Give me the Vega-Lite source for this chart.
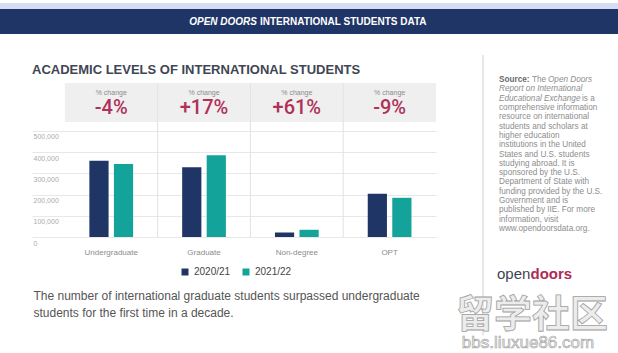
{
  "$schema": "https://vega.github.io/schema/vega-lite/v6.json",
  "padding": 0,
  "background": "white",
  "bounds": "flush",
  "spacing": 0,
  "config": {
    "font": "Liberation Sans",
    "view": {"stroke": null},
    "concat": {"spacing": 0}
  },
  "datasets": {
    "students": [
      {"level": "Undergraduate", "year": "2020/21", "students": 359787},
      {"level": "Undergraduate", "year": "2021/22", "students": 344532},
      {"level": "Graduate", "year": "2020/21", "students": 329272},
      {"level": "Graduate", "year": "2021/22", "students": 385097},
      {"level": "Non-degree", "year": "2020/21", "students": 21151},
      {"level": "Non-degree", "year": "2021/22", "students": 34017},
      {"level": "OPT", "year": "2020/21", "students": 203885},
      {"level": "OPT", "year": "2021/22", "students": 184759}
    ],
    "changes": [
      {"level": "Undergraduate", "change": "-4%"},
      {"level": "Graduate", "change": "+17%"},
      {"level": "Non-degree", "change": "+61%"},
      {"level": "OPT", "change": "-9%"}
    ],
    "notes": [
      {"line": 1, "part": "label", "text": "Source:"},
      {"line": 1, "part": "lead", "text": "The"},
      {"line": 1, "part": "title1", "text": "Open Doors"},
      {"line": 2, "part": "title", "text": "Report on International"},
      {"line": 3, "part": "title", "text": "Educational Exchange"},
      {"line": 3, "part": "tail", "text": "is a"},
      {"line": 4, "part": "body", "text": "comprehensive information"},
      {"line": 5, "part": "body", "text": "resource on international"},
      {"line": 6, "part": "body", "text": "students and scholars at"},
      {"line": 7, "part": "body", "text": "higher education"},
      {"line": 8, "part": "body", "text": "institutions in the United"},
      {"line": 9, "part": "body", "text": "States and U.S. students"},
      {"line": 10, "part": "body", "text": "studying abroad. It is"},
      {"line": 11, "part": "body", "text": "sponsored by the U.S."},
      {"line": 12, "part": "body", "text": "Department of State with"},
      {"line": 13, "part": "body", "text": "funding provided by the U.S."},
      {"line": 14, "part": "body", "text": "Government and is"},
      {"line": 15, "part": "body", "text": "published by IIE. For more"},
      {"line": 16, "part": "body", "text": "information, visit"},
      {"line": 17, "part": "body", "text": "www.opendoorsdata.org."}
    ]
  },
  "vconcat": [
    {
      "width": 618, "height": 6,
      "view": {"fill": "#d4ddf4", "stroke": null},
      "data": {"values": [{}]},
      "mark": {"type": "text", "text": ""}
    },
    {
      "width": 618, "height": 25,
      "view": {"fill": "#1f3566", "stroke": null},
      "data": {"values": [
        {"part": "name", "text": "OPEN DOORS"},
        {"part": "rest", "text": "INTERNATIONAL STUDENTS DATA"}
      ]},
      "layer": [
        {
          "transform": [{"filter": "datum.part === 'name'"}],
          "mark": {"type": "text", "align": "right", "baseline": "middle", "dx": -52, "fontStyle": "italic", "fontWeight": "bold", "fontSize": 10, "color": "#ffffff"},
          "encoding": {"text": {"field": "text"}}
        },
        {
          "transform": [{"filter": "datum.part === 'rest'"}],
          "mark": {"type": "text", "align": "left", "baseline": "middle", "dx": -49, "fontWeight": "bold", "fontSize": 10, "color": "#ffffff"},
          "encoding": {"text": {"field": "text"}}
        }
      ]
    },
    {
      "width": 618, "height": 49,
      "data": {"values": [{}]},
      "mark": {"type": "text", "text": ""}
    },
    {
      "bounds": "flush",
      "spacing": 0,
      "hconcat": [
        {
          "width": 32, "height": 10,
          "data": {"values": [{}]},
          "mark": {"type": "text", "text": ""}
        },
        {
          "bounds": "flush",
          "spacing": 47,
          "hconcat": [
            {
              "width": 404, "height": 154,
              "title": {"text": "ACADEMIC LEVELS OF INTERNATIONAL STUDENTS", "anchor": "start", "frame": "group", "font": "Liberation Sans", "fontSize": 13, "fontWeight": "bold", "color": "#3f4653", "baseline": "alphabetic", "offset": -4.5},
              "layer": [
                {
                  "data": {"name": "changes"},
                  "mark": {"type": "rect", "color": "#efefef"},
                  "encoding": {
                    "x": {"field": "level", "type": "nominal", "sort": ["Undergraduate", "Graduate", "Non-degree", "OPT"], "scale": {"paddingInner": 0, "paddingOuter": 0.177, "align": 1},
                      "axis": {
                        "title": ["The number of international graduate students surpassed undergraduate", "students for the first time in a decade."],
                        "titleAnchor": "start", "titleAlign": "left", "titleX": 1, "titleY": 62, "titleBaseline": "alphabetic",
                        "titleFont": "Liberation Sans", "titleFontSize": 12, "titleFontWeight": "normal", "titleColor": "#555555", "titleLineHeight": 17,
                        "domain": false, "ticks": false, "tickSize": 0, "grid": false,
                        "labelPadding": 11, "labelFontSize": 8, "labelColor": "#8c8c8c", "labelAngle": 0
                      }},
                    "y": {"datum": 542000, "type": "quantitative", "scale": {"domain": [0, 726000], "nice": false},
                      "axis": {
                        "values": [0, 100000, 200000, 300000, 400000, 500000], "labelExpr": "format(datum.value, ',')", "title": null,
                        "domain": false, "ticks": false, "tickSize": 0, "grid": true, "gridColor": "#e8e8e8",
                        "labelAlign": "left", "labelPadding": -1, "labelBaseline": "top", "labelOffset": 2,
                        "labelOverlap": false, "labelFlush": false, "labelBound": false,
                        "labelFontSize": 7, "labelColor": "#ababab"
                      }},
                    "y2": {"datum": 726000}
                  }
                },
                {
                  "data": {"name": "changes"},
                  "transform": [{"filter": "datum.level !== 'Undergraduate'"}],
                  "mark": {"type": "rule", "color": "#e2e2e2", "strokeWidth": 1},
                  "encoding": {
                    "x": {"field": "level", "type": "nominal", "sort": ["Undergraduate", "Graduate", "Non-degree", "OPT"], "bandPosition": 0, "scale": {"paddingInner": 0, "paddingOuter": 0.177, "align": 1}},
                    "y": {"datum": 0, "type": "quantitative", "scale": {"domain": [0, 726000], "nice": false},
                      "axis": {
                        "values": [0, 100000, 200000, 300000, 400000, 500000], "labelExpr": "format(datum.value, ',')", "title": null,
                        "domain": false, "ticks": false, "tickSize": 0, "grid": true, "gridColor": "#e8e8e8",
                        "labelAlign": "left", "labelPadding": -1, "labelBaseline": "top", "labelOffset": 2,
                        "labelOverlap": false, "labelFlush": false, "labelBound": false,
                        "labelFontSize": 7, "labelColor": "#ababab"
                      }},
                    "y2": {"datum": 726000}
                  }
                },
                {
                  "data": {"name": "students"},
                  "mark": {"type": "bar"},
                  "encoding": {
                    "x": {"field": "level", "type": "nominal", "sort": ["Undergraduate", "Graduate", "Non-degree", "OPT"], "scale": {"paddingInner": 0, "paddingOuter": 0.177, "align": 1}},
                    "xOffset": {"field": "year", "type": "nominal", "scale": {"paddingInner": 0.217, "paddingOuter": 1.13}},
                    "y": {"field": "students", "type": "quantitative", "scale": {"domain": [0, 726000], "nice": false},
                      "axis": {
                        "values": [0, 100000, 200000, 300000, 400000, 500000], "labelExpr": "format(datum.value, ',')", "title": null,
                        "domain": false, "ticks": false, "tickSize": 0, "grid": true, "gridColor": "#e8e8e8",
                        "labelAlign": "left", "labelPadding": -1, "labelBaseline": "top", "labelOffset": 2,
                        "labelOverlap": false, "labelFlush": false, "labelBound": false,
                        "labelFontSize": 7, "labelColor": "#ababab"
                      }},
                    "color": {
                      "field": "year", "type": "nominal",
                      "scale": {"domain": ["2020/21", "2021/22"], "range": ["#1f3566", "#14a39a"]},
                      "legend": {
                        "orient": "none", "legendX": 180, "legendY": 264, "direction": "horizontal", "title": null,
                        "symbolType": "square", "symbolSize": 49, "symbolStrokeWidth": 0,
                        "labelFontSize": 10, "labelColor": "#444444", "labelOffset": 4, "columnPadding": 10
                      }
                    }
                  }
                },
                {
                  "data": {"name": "changes"},
                  "mark": {"type": "text", "fontSize": 7, "color": "#8c8c8c", "baseline": "middle", "text": "% change"},
                  "encoding": {
                    "x": {"field": "level", "type": "nominal", "sort": ["Undergraduate", "Graduate", "Non-degree", "OPT"], "scale": {"paddingInner": 0, "paddingOuter": 0.177, "align": 1}},
                    "y": {"datum": 680270, "type": "quantitative", "scale": {"domain": [0, 726000], "nice": false},
                      "axis": {
                        "values": [0, 100000, 200000, 300000, 400000, 500000], "labelExpr": "format(datum.value, ',')", "title": null,
                        "domain": false, "ticks": false, "tickSize": 0, "grid": true, "gridColor": "#e8e8e8",
                        "labelAlign": "left", "labelPadding": -1, "labelBaseline": "top", "labelOffset": 2,
                        "labelOverlap": false, "labelFlush": false, "labelBound": false,
                        "labelFontSize": 7, "labelColor": "#ababab"
                      }}
                  }
                },
                {
                  "data": {"name": "changes"},
                  "mark": {"type": "text", "font": "Roboto", "fontSize": 20, "fontWeight": 500, "color": "#b0315a", "baseline": "middle"},
                  "encoding": {
                    "x": {"field": "level", "type": "nominal", "sort": ["Undergraduate", "Graduate", "Non-degree", "OPT"], "scale": {"paddingInner": 0, "paddingOuter": 0.177, "align": 1}},
                    "y": {"datum": 605800, "type": "quantitative", "scale": {"domain": [0, 726000], "nice": false},
                      "axis": {
                        "values": [0, 100000, 200000, 300000, 400000, 500000], "labelExpr": "format(datum.value, ',')", "title": null,
                        "domain": false, "ticks": false, "tickSize": 0, "grid": true, "gridColor": "#e8e8e8",
                        "labelAlign": "left", "labelPadding": -1, "labelBaseline": "top", "labelOffset": 2,
                        "labelOverlap": false, "labelFlush": false, "labelBound": false,
                        "labelFontSize": 7, "labelColor": "#ababab"
                      }},
                    "text": {"field": "change"}
                  }
                }
              ]
            },
            {
              "width": 130, "height": 149,
              "layer": [
                {
                  "data": {"values": [{}]},
                  "mark": {"type": "rule", "color": "#d0d0d0", "strokeWidth": 1},
                  "encoding": {
                    "x": {"datum": 0, "type": "quantitative", "scale": {"domain": [0, 1], "nice": false, "zero": false}, "axis": null},
                    "y": {"datum": -2, "type": "quantitative", "scale": {"domain": [1, 17], "reverse": true, "nice": false, "zero": false}, "axis": null},
                    "y2": {"datum": 28.1}
                  }
                },
                {
                  "data": {"name": "notes"},
                  "transform": [{"filter": "datum.part === 'body'"}],
                  "mark": {"type": "text", "align": "left", "baseline": "middle", "dx": 16, "dy": -3, "fontSize": 8.2, "color": "#8d8d8d"},
                  "encoding": {
                    "x": {"datum": 0, "type": "quantitative"},
                    "y": {"field": "line", "type": "quantitative"},
                    "text": {"field": "text"}
                  }
                },
                {
                  "data": {"name": "notes"},
                  "transform": [{"filter": "datum.part === 'title'"}],
                  "mark": {"type": "text", "align": "left", "baseline": "middle", "dx": 16, "dy": -3, "fontSize": 8.2, "fontStyle": "italic", "color": "#8d8d8d"},
                  "encoding": {
                    "x": {"datum": 0, "type": "quantitative"},
                    "y": {"field": "line", "type": "quantitative"},
                    "text": {"field": "text"}
                  }
                },
                {
                  "data": {"name": "notes"},
                  "transform": [{"filter": "datum.part === 'label'"}],
                  "mark": {"type": "text", "align": "left", "baseline": "middle", "dx": 16, "dy": -3, "fontSize": 8.2, "fontWeight": "bold", "color": "#6a6a6a"},
                  "encoding": {
                    "x": {"datum": 0, "type": "quantitative"},
                    "y": {"field": "line", "type": "quantitative"},
                    "text": {"field": "text"}
                  }
                },
                {
                  "data": {"name": "notes"},
                  "transform": [{"filter": "datum.part === 'lead'"}],
                  "mark": {"type": "text", "align": "left", "baseline": "middle", "dx": 49, "dy": -3, "fontSize": 8.2, "color": "#8d8d8d"},
                  "encoding": {
                    "x": {"datum": 0, "type": "quantitative"},
                    "y": {"field": "line", "type": "quantitative"},
                    "text": {"field": "text"}
                  }
                },
                {
                  "data": {"name": "notes"},
                  "transform": [{"filter": "datum.part === 'title1'"}],
                  "mark": {"type": "text", "align": "left", "baseline": "middle", "dx": 65, "dy": -3, "fontSize": 8.2, "fontStyle": "italic", "color": "#8d8d8d"},
                  "encoding": {
                    "x": {"datum": 0, "type": "quantitative"},
                    "y": {"field": "line", "type": "quantitative"},
                    "text": {"field": "text"}
                  }
                },
                {
                  "data": {"name": "notes"},
                  "transform": [{"filter": "datum.part === 'tail'"}],
                  "mark": {"type": "text", "align": "left", "baseline": "middle", "dx": 99, "dy": -3, "fontSize": 8.2, "color": "#8d8d8d"},
                  "encoding": {
                    "x": {"datum": 0, "type": "quantitative"},
                    "y": {"field": "line", "type": "quantitative"},
                    "text": {"field": "text"}
                  }
                },
                {
                  "data": {"values": [{}]},
                  "mark": {"type": "text", "align": "left", "baseline": "middle", "dx": 14, "fontSize": 15, "color": "#3d4457", "text": "open"},
                  "encoding": {
                    "x": {"datum": 0, "type": "quantitative"},
                    "y": {"datum": 21.5, "type": "quantitative"}
                  }
                },
                {
                  "data": {"values": [{}]},
                  "mark": {"type": "text", "align": "left", "baseline": "middle", "dx": 47.5, "fontSize": 15, "fontWeight": "bold", "color": "#b02a52", "text": "doors"},
                  "encoding": {
                    "x": {"datum": 0, "type": "quantitative"},
                    "y": {"datum": 21.5, "type": "quantitative"}
                  }
                },
                {
                  "data": {"values": [{}]},
                  "mark": {"type": "text", "align": "center", "baseline": "middle", "dx": 49, "font": "Noto Sans CJK SC", "fontSize": 38, "fontWeight": "bold", "fill": "#ececec", "stroke": "#a0a0a0", "strokeWidth": 0.8, "text": "留学社区"},
                  "encoding": {
                    "x": {"datum": 0, "type": "quantitative"},
                    "y": {"datum": 26.0, "type": "quantitative"}
                  }
                },
                {
                  "data": {"values": [{}]},
                  "mark": {"type": "text", "align": "center", "baseline": "middle", "dx": 45, "fontSize": 17, "fill": "#ececec", "stroke": "#a0a0a0", "strokeWidth": 0.6, "text": "bbs.liuxue86.com"},
                  "encoding": {
                    "x": {"datum": 0, "type": "quantitative"},
                    "y": {"datum": 28.9, "type": "quantitative"}
                  }
                }
              ]
            }
          ]
        }
      ]
    }
  ]
}
